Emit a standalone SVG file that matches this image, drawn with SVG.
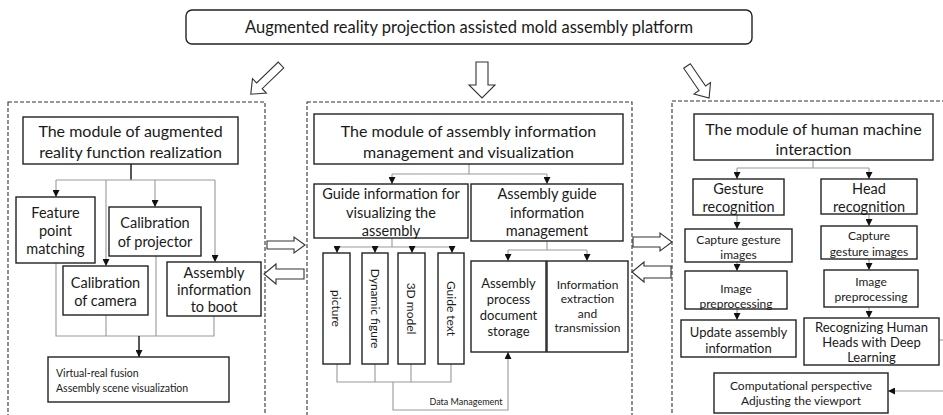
<svg xmlns="http://www.w3.org/2000/svg" width="943" height="415" viewBox="0 0 943 415">
<style>
text{font-family:Lato,"Liberation Sans",sans-serif;fill:#1a1a1a;text-anchor:middle;dominant-baseline:central}
.box{fill:#fff;stroke:#222;stroke-width:1.4}
.dash{fill:none;stroke:#333;stroke-width:1.1;stroke-dasharray:4 2}
.ln{fill:none;stroke:#999;stroke-width:1.1}
.lk{fill:none;stroke:#111;stroke-width:1.4}
.ha{fill:#fff;stroke:#333;stroke-width:1.1}
.t17{font-size:16px}.t15{font-size:14.5px}.t14{font-size:13px}.t13{font-size:12px}.t11{font-size:10.5px}.t9{font-size:9px}
</style>
<defs>
<marker id="ah" viewBox="0 0 8 8" refX="8" refY="4" markerWidth="7" markerHeight="7" markerUnits="userSpaceOnUse" orient="auto"><path d="M0,0 L8,4 L0,8 Z" fill="#111"/></marker>
</defs>

<g id="platform">
<rect class="box" x="186" y="10" width="566" height="34" rx="6" stroke="#444"/>
<text class="t17" x="469" y="27" style="font-size:16.5px">Augmented reality projection assisted mold assembly platform</text>
</g>

<g id="top-arrows">
<path class="ha" d="M0,-4 L30,-4 L30,-10 L42,0 L30,10 L30,4 L0,4 Z" transform="translate(281,65) rotate(136)"/>
<path class="ha" d="M0,-6 L23,-6 L23,-13 L36,0 L23,13 L23,6 L0,6 Z" transform="translate(482,62) rotate(90)"/>
<path class="ha" d="M0,-4 L27,-4 L27,-10 L39,0 L27,10 L27,4 L0,4 Z" transform="translate(687,66) rotate(55.5)"/>
</g>

<g id="module-frames">
<rect class="dash" x="8" y="102" width="257" height="330"/>
<rect class="dash" x="307" y="102" width="325" height="330"/>
<rect class="dash" x="672" y="101" width="300" height="330"/>
</g>

<g id="side-arrows">
<path class="ha" d="M0,-4 L27,-4 L27,-8 L38,0 L27,8 L27,4 L0,4 Z" transform="translate(267,245)"/>
<path class="ha" d="M0,-5 L28,-5 L28,-10 L40,0 L28,10 L28,5 L0,5 Z" transform="translate(304,274) rotate(180)"/>
<path class="ha" d="M0,-5 L27,-5 L27,-9 L39,0 L27,9 L27,5 L0,5 Z" transform="translate(633,242)"/>
<path class="ha" d="M0,-6 L27,-6 L27,-10 L39,0 L27,10 L27,6 L0,6 Z" transform="translate(671,272) rotate(180)"/>
</g>

<g id="connectors">
<path class="lk" d="M131,164 V180"/>
<path class="ln" d="M56,180 H215"/>
<path class="ln" d="M56,180 V197" marker-end="url(#ah)"/>
<path class="ln" d="M106,180 V266" marker-end="url(#ah)"/>
<path class="ln" d="M155,180 V207" marker-end="url(#ah)"/>
<path class="ln" d="M215,180 V262" marker-end="url(#ah)"/>
<path class="ln" d="M56,263 V336 H214 V316 M106,315 V336 M156,256 V336"/>
<path class="lk" d="M139,336 V357" marker-end="url(#ah)"/>

<path class="ln" d="M469,164 V174 M392,174 H547"/>
<path class="ln" d="M392,174 V184" marker-end="url(#ah)"/>
<path class="ln" d="M547,174 V184" marker-end="url(#ah)"/>
<path class="ln" d="M392,238 V247 M337,247 H452"/>
<path class="ln" d="M337,247 V253" marker-end="url(#ah)"/>
<path class="ln" d="M375,247 V253" marker-end="url(#ah)"/>
<path class="ln" d="M412,247 V253" marker-end="url(#ah)"/>
<path class="ln" d="M452,247 V253" marker-end="url(#ah)"/>
<path class="ln" d="M337,364 V382 H451 V364 M375,364 V382 M411,364 V382"/>
<path class="ln" d="M393,382 V410 H508 V352" marker-end="url(#ah)"/>
<path class="ln" d="M547,241 V250 M508,250 H587"/>
<path class="ln" d="M508,250 V261" marker-end="url(#ah)"/>
<path class="ln" d="M587,250 V261" marker-end="url(#ah)"/>

<path class="ln" d="M813,160 V168 M737,168 H869"/>
<path class="ln" d="M737,168 V179" marker-end="url(#ah)"/>
<path class="ln" d="M869,168 V179" marker-end="url(#ah)"/>
<path class="ln" d="M737,215 V229" marker-end="url(#ah)"/>
<path class="ln" d="M869,214 V226" marker-end="url(#ah)"/>
<path class="ln" d="M737,262 V271" marker-end="url(#ah)"/>
<path class="ln" d="M869,259 V270" marker-end="url(#ah)"/>
<path class="ln" d="M737,309 V320" marker-end="url(#ah)"/>
<path class="ln" d="M869,307 V318" marker-end="url(#ah)"/>
<path class="ln" d="M939,340 H952 V391 H888" marker-end="url(#ah)"/>
</g>

<g id="ar-title">
<rect class="box" x="23" y="117" width="215" height="47"/>
<text class="t17" x="130.5" y="130">The module of augmented</text>
<text class="t17" x="130.5" y="151">reality function realization</text>
</g>
<g id="feature-matching">
<rect class="box" x="16" y="197" width="79" height="66"/>
<text class="t15" x="55.5" y="212">Feature</text>
<text class="t15" x="55.5" y="230">point</text>
<text class="t15" x="55.5" y="248">matching</text>
</g>
<g id="calib-projector">
<rect class="box" x="109" y="207" width="92" height="49"/>
<text class="t15" x="155" y="222">Calibration</text>
<text class="t15" x="155" y="241">of projector</text>
</g>
<g id="calib-camera">
<rect class="box" x="63" y="266" width="85" height="49"/>
<text class="t15" x="105.5" y="282">Calibration</text>
<text class="t15" x="105.5" y="300">of camera</text>
</g>
<g id="assembly-boot">
<rect class="box" x="167" y="262" width="94" height="54"/>
<text class="t15" x="214" y="272">Assembly</text>
<text class="t15" x="214" y="289">information</text>
<text class="t15" x="214" y="306">to boot</text>
</g>
<g id="virtual-fusion">
<rect class="box" x="48" y="357" width="181" height="45"/>
<text class="t11" x="56" y="373" style="text-anchor:start">Virtual-real fusion</text>
<text class="t11" x="56" y="388" style="text-anchor:start">Assembly scene visualization</text>
</g>

<g id="aim-title">
<rect class="box" x="314" y="114" width="309" height="50"/>
<text class="t17" x="468.5" y="130">The module of assembly information</text>
<text class="t17" x="468.5" y="151">management and visualization</text>
</g>
<g id="guide-visual">
<rect class="box" x="314" y="184" width="154" height="54"/>
<text class="t15" x="391" y="193">Guide information for</text>
<text class="t15" x="391" y="212">visualizing the</text>
<text class="t15" x="391" y="230">assembly</text>
</g>
<g id="guide-mgmt">
<rect class="box" x="471" y="184" width="152" height="57"/>
<text class="t15" x="547" y="193">Assembly guide</text>
<text class="t15" x="547" y="212">information</text>
<text class="t15" x="547" y="230">management</text>
</g>
<g id="picture">
<rect class="box" x="323" y="253" width="27" height="111"/>
<text class="t13" transform="translate(336.5,308.5) rotate(90)">picture</text>
</g>
<g id="dynamic-figure">
<rect class="box" x="362" y="253" width="26" height="111"/>
<text class="t13" transform="translate(375,308.5) rotate(90)">Dynamic figure</text>
</g>
<g id="model-3d">
<rect class="box" x="398" y="253" width="27" height="111"/>
<text class="t13" transform="translate(411.5,308.5) rotate(90)">3D model</text>
</g>
<g id="guide-text">
<rect class="box" x="438" y="253" width="26" height="111"/>
<text class="t13" transform="translate(451,308.5) rotate(90)">Guide text</text>
</g>
<g id="doc-storage">
<rect class="box" x="471" y="261" width="75" height="91"/>
<text class="t14" x="508.5" y="283">Assembly</text>
<text class="t14" x="508.5" y="299">process</text>
<text class="t14" x="508.5" y="315">document</text>
<text class="t14" x="508.5" y="331">storage</text>
</g>
<g id="info-extraction">
<rect class="box" x="547" y="261" width="81" height="91"/>
<text class="t13" x="587.5" y="284">Information</text>
<text class="t13" x="587.5" y="298.5">extraction</text>
<text class="t13" x="587.5" y="313">and</text>
<text class="t13" x="587.5" y="327.5">transmission</text>
</g>
<g id="data-management-label">
<text class="t9" x="466" y="401">Data Management</text>
</g>

<g id="hmi-title">
<rect class="box" x="694" y="114" width="239" height="46"/>
<text class="t17" x="813.5" y="128">The module of human machine</text>
<text class="t17" x="813.5" y="148">interaction</text>
</g>
<g id="gesture-recog">
<rect class="box" x="693" y="179" width="91" height="36"/>
<text class="t15" x="738.5" y="188">Gesture</text>
<text class="t15" x="738.5" y="206">recognition</text>
</g>
<g id="head-recog">
<rect class="box" x="821" y="179" width="96" height="35"/>
<text class="t15" x="869" y="188">Head</text>
<text class="t15" x="869" y="206">recognition</text>
</g>
<g id="capture-gesture">
<rect class="box" x="685" y="229" width="107" height="33"/>
<text class="t13" x="738.5" y="239">Capture gesture</text>
<text class="t13" x="738.5" y="254">images</text>
</g>
<g id="capture-head">
<rect class="box" x="821" y="226" width="96" height="33"/>
<text class="t13" x="869" y="235">Capture</text>
<text class="t13" x="869" y="251">gesture images</text>
</g>
<g id="preproc-gesture">
<rect class="box" x="685" y="271" width="102" height="38"/>
<text class="t13" x="736" y="288">Image</text>
<text class="t13" x="736" y="303">preprocessing</text>
</g>
<g id="preproc-head">
<rect class="box" x="824" y="270" width="94" height="37"/>
<text class="t13" x="871" y="281">Image</text>
<text class="t13" x="871" y="296">preprocessing</text>
</g>
<g id="update-info">
<rect class="box" x="681" y="320" width="115" height="37"/>
<text class="t14" x="738.5" y="332">Update assembly</text>
<text class="t14" x="738.5" y="348">information</text>
</g>
<g id="recog-heads">
<rect class="box" x="804" y="318" width="135" height="47"/>
<text class="t14" x="871.5" y="327">Recognizing Human</text>
<text class="t14" x="871.5" y="342">Heads with Deep</text>
<text class="t14" x="871.5" y="357">Learning</text>
</g>
<g id="viewport">
<rect class="box" x="714" y="373" width="174" height="40"/>
<text class="t13" x="801" y="385">Computational perspective</text>
<text class="t13" x="801" y="400">Adjusting the viewport</text>
</g>
</svg>
